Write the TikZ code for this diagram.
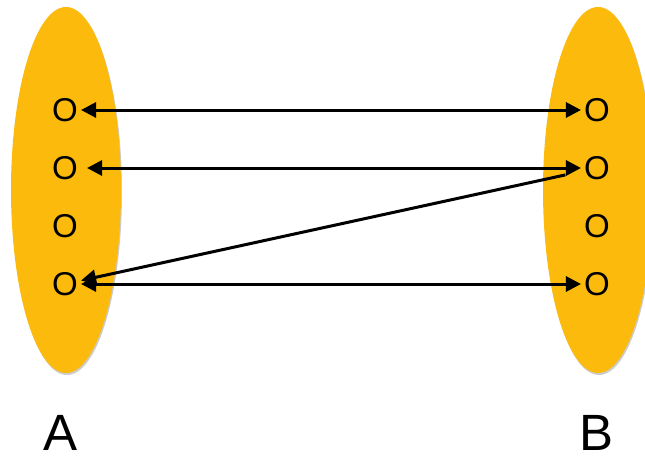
\documentclass[tikz,border=0pt]{standalone}
\usepackage{fontspec}
\setmainfont{Liberation Sans}
\usetikzlibrary{arrows.meta}
\definecolor{setfill}{RGB}{252,186,12}

\begin{document}
\begin{tikzpicture}[x=1pt,y=-1pt,
    elem/.style={font=\fontsize{33}{33}\selectfont, inner sep=3pt},
    setname/.style={font=\fontsize{51}{51}\selectfont, inner sep=0pt},
    link/.style={line width=3pt, {Triangle[length=15pt,width=15pt]}-{Triangle[length=15pt,width=15pt]}},
    onelink/.style={line width=3pt, -{Triangle[length=15pt,width=15pt]}}]

    \useasboundingbox (0,0) rectangle (645,461);

    \fill[black!20] (67,192) ellipse [x radius=55, y radius=183];
    \fill[setfill] (66,190) ellipse [x radius=55, y radius=183];
    \node[setname] (labA) at (61,433) {A};

    \fill[black!20] (599,192) ellipse [x radius=55, y radius=183];
    \fill[setfill] (598,190) ellipse [x radius=55, y radius=183];
    \node[setname] (labB) at (597,433) {B};

    \node[elem] (a1) at (65,110) {O};
    \node[elem] (a2) at (65,168) {O};
    \node[elem] (a3) at (65,226) {O};
    \node[elem] (a4) at (65,284) {O};

    \node[elem] (b1) at (597,110) {O};
    \node[elem] (b2) at (597,168) {O};
    \node[elem] (b3) at (597,226) {O};
    \node[elem] (b4) at (597,284) {O};

    \draw[link] (a1) -- (b1);
    \draw[link, shorten <=6pt] (a2) -- (b2);
    \draw[onelink, shorten <=16pt] (b2) -- (a4);
    \draw[link] (a4) -- (b4);

\end{tikzpicture}
\end{document}
